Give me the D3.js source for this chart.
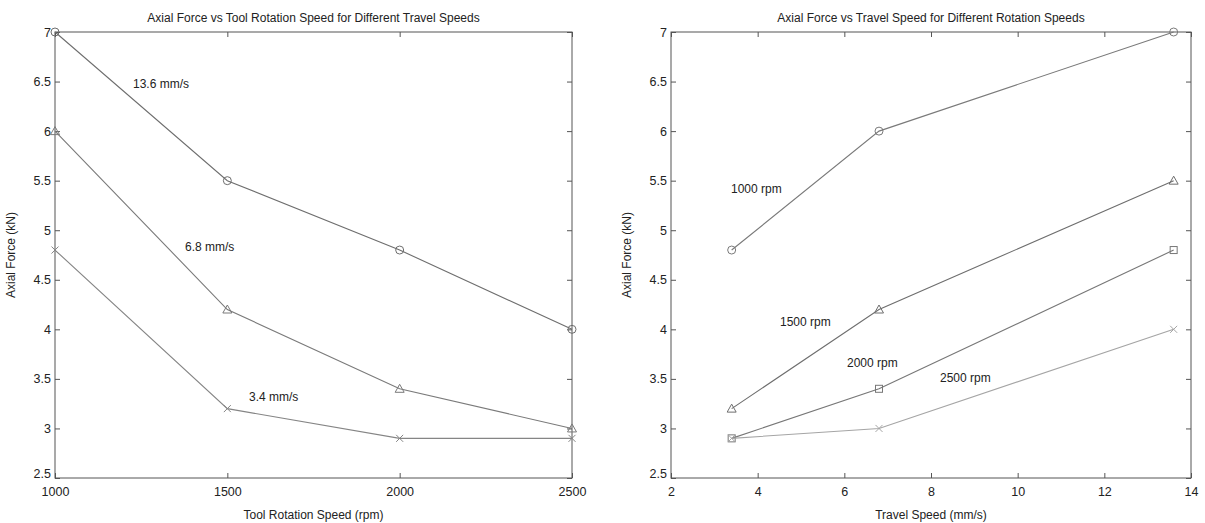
<!DOCTYPE html>
<html>
<head>
<meta charset="utf-8">
<script src="https://cdn.jsdelivr.net/npm/d3@7"></script>
<style>
  body { margin: 0; background: #fff; }
  text { font-family: "Liberation Sans", Arial, sans-serif; fill: #222; }
</style>
</head>
<body>
<div id="chart"></div>
<script>
// left panel: force vs rotation speed
var rotationSpeeds = [1000, 1500, 2000, 2500]
var force136 = [7, 5.5, 4.8, 4]
var force68 = [6, 4.2, 3.4, 3]
var force34 = [4.8, 3.2, 2.9, 2.9]

// right panel: force vs travel speed
var travelSpeeds = [3.4, 6.8, 13.6]
var force1000 = [4.8, 6, 7]
var force1500 = [3.2, 4.2, 5.5]
var force2000 = [2.9, 3.4, 4.8]
var force2500 = [2.9, 3.0, 4.0]

var yTicks = [2.5, 3, 3.5, 4, 4.5, 5, 5.5, 6, 6.5, 7]
var xTicksLeft = [1000, 1500, 2000, 2500]
var xTicksRight = [2, 4, 6, 8, 10, 12, 14]

var svg = d3.select("#chart").append("svg")
    .attr("width", 1205)
    .attr("height", 523)

var axisColor = "#555"
var plain = d3.format("")

function drawPanel(opt) {
    var x = d3.scaleLinear().domain(opt.xDomain).range([opt.left, opt.right])
    var y = d3.scaleLinear().domain([2.5, 7]).range([478, 32])
    var g = svg.append("g")

    // box
    g.append("rect")
        .attr("x", opt.left).attr("y", 32)
        .attr("width", opt.right - opt.left).attr("height", 446)
        .attr("fill", "none").attr("stroke", axisColor).attr("stroke-width", 1)

    g.append("g").attr("transform", "translate(0,478)")
        .call(d3.axisBottom(x).tickValues(opt.xTicks).tickSizeInner(-5).tickSizeOuter(0).tickPadding(9).tickFormat(plain))
    g.append("g").attr("transform", "translate(0,32)")
        .call(d3.axisTop(x).tickValues(opt.xTicks).tickSizeInner(-5).tickSizeOuter(0).tickFormat(""))
    var leftAx = g.append("g").attr("transform", `translate(${opt.left},0)`)
        .call(d3.axisLeft(y).tickValues(yTicks).tickSizeInner(-5).tickSizeOuter(0).tickPadding(4).tickFormat(plain))
    g.append("g").attr("transform", `translate(${opt.right},0)`)
        .call(d3.axisRight(y).tickValues(yTicks).tickSizeInner(-5).tickSizeOuter(0).tickFormat(""))

    g.selectAll(".domain").remove()
    g.selectAll(".tick line").attr("stroke", axisColor)
    g.selectAll(".tick text").attr("font-size", 12.5).attr("fill", "#222")
        .style("font-family", "'Liberation Sans', Arial, sans-serif")
    // bottom y label sits a bit higher, like matlab
    leftAx.selectAll(".tick").filter(d => d === 2.5).select("text").attr("dy", "-0.05em")

    // titles
    g.append("text").attr("x", (opt.left + opt.right) / 2).attr("y", 22)
        .attr("text-anchor", "middle").attr("font-size", 12).text(opt.title)
    g.append("text").attr("x", (opt.left + opt.right) / 2).attr("y", 519)
        .attr("text-anchor", "middle").attr("font-size", 12).text(opt.xLabel)
    g.append("text")
        .attr("transform", `translate(${opt.left - 40},255) rotate(-90)`)
        .attr("text-anchor", "middle").attr("font-size", 12).text("Axial Force (kN)")

    var line = d3.line().x(d => x(d[0])).y(d => y(d[1]))

    opt.series.forEach(function (s) {
        var pts = opt.xs.map((v, i) => [v, s.values[i]])
        g.append("path").datum(pts)
            .attr("d", line)
            .attr("fill", "none").attr("stroke", s.color).attr("stroke-width", 1.1)
        var m = g.selectAll(null).data(pts).enter()
        if (s.marker === "circle") {
            m.append("circle").attr("cx", d => x(d[0])).attr("cy", d => y(d[1])).attr("r", 4)
                .attr("fill", "none").attr("stroke", s.color)
        } else if (s.marker === "triangle") {
            m.append("path")
                .attr("transform", d => `translate(${x(d[0])},${y(d[1])})`)
                .attr("d", "M0,-4.5L4.5,3.5L-4.5,3.5Z")
                .attr("fill", "none").attr("stroke", s.color)
        } else if (s.marker === "square") {
            m.append("rect").attr("x", d => x(d[0]) - 3.5).attr("y", d => y(d[1]) - 3.5)
                .attr("width", 7).attr("height", 7)
                .attr("fill", "none").attr("stroke", s.color)
        } else {
            m.append("path")
                .attr("transform", d => `translate(${x(d[0])},${y(d[1])})`)
                .attr("d", "M-3.5,-3.5L3.5,3.5M-3.5,3.5L3.5,-3.5")
                .attr("fill", "none").attr("stroke", s.color)
        }
    })

    opt.notes.forEach(function (n) {
        g.append("text").attr("x", n.x).attr("y", n.y).attr("font-size", 12).text(n.text)
    })
}

drawPanel({
    left: 55, right: 572,
    xDomain: [1000, 2500],
    xTicks: xTicksLeft,
    xs: rotationSpeeds,
    title: "Axial Force vs Tool Rotation Speed for Different Travel Speeds",
    xLabel: "Tool Rotation Speed (rpm)",
    series: [
        { values: force136, marker: "circle", color: "#6e6e6e" },
        { values: force68, marker: "triangle", color: "#7a7a7a" },
        { values: force34, marker: "x", color: "#858585" }
    ],
    notes: [
        { text: "13.6 mm/s", x: 133, y: 88 },
        { text: "6.8 mm/s", x: 185, y: 251 },
        { text: "3.4 mm/s", x: 249, y: 401 }
    ]
})

drawPanel({
    left: 671, right: 1191,
    xDomain: [2, 14],
    xTicks: xTicksRight,
    xs: travelSpeeds,
    title: "Axial Force vs Travel Speed for Different Rotation Speeds",
    xLabel: "Travel Speed (mm/s)",
    series: [
        { values: force1000, marker: "circle", color: "#7a7a7a" },
        { values: force1500, marker: "triangle", color: "#6e6e6e" },
        { values: force2000, marker: "square", color: "#777" },
        { values: force2500, marker: "x", color: "#a5a5a5" }
    ],
    notes: [
        { text: "1000 rpm", x: 731, y: 193 },
        { text: "1500 rpm", x: 780, y: 326 },
        { text: "2000 rpm", x: 847, y: 367 },
        { text: "2500 rpm", x: 940, y: 382 }
    ]
})
</script>
</body>
</html>
